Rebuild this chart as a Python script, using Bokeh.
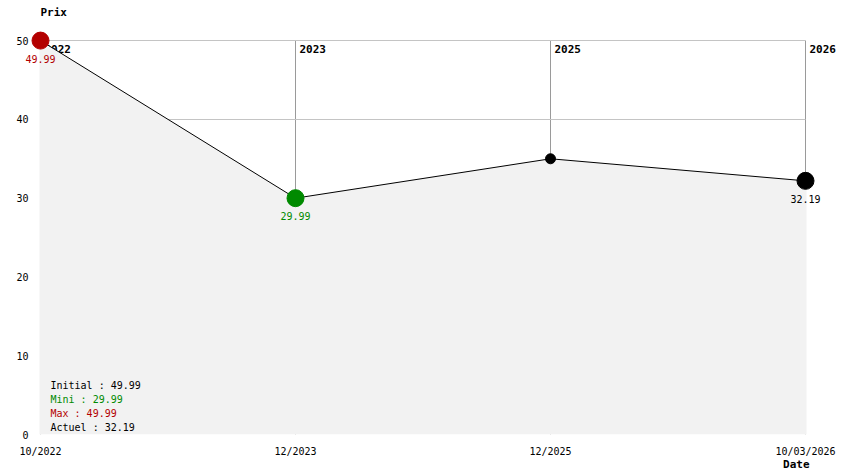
from bokeh.plotting import figure
from bokeh.models import ColumnDataSource, FixedTicker, Range1d, LabelSet, Label, Title
from bokeh.core.properties import value
from bokeh.embed import file_html
from bokeh.resources import INLINE

# ---- data ----
dates = ["10/2022", "12/2023", "12/2025", "10/03/2026"]
years = ["2022", "2023", "2025", "2026"]
prices = [49.99, 29.99, 34.99, 32.19]
y_ticks = [0, 10, 20, 30, 40, 50]

RED = "#b30000"
GREEN = "#008a00"
FILL = "#f2f2f2"
FONT = "DejaVu Sans Mono"

idx = list(range(len(prices)))
pmax, pmin = max(prices), min(prices)
last = len(prices) - 1

colors, sizes = [], []
for i, p in enumerate(prices):
    if p == pmax:
        colors.append(RED); sizes.append(17)
    elif p == pmin:
        colors.append(GREEN); sizes.append(17)
    elif i == last:
        colors.append("black"); sizes.append(17)
    else:
        colors.append("black"); sizes.append(10)

src = ColumnDataSource(dict(x=idx, y=prices, c=colors, s=sizes,
                            base=[0] * len(prices)))

PX = 255.0   # px per category step
PY = 7.88    # px per price unit
p = figure(width=844, height=474, output_backend="svg", toolbar_location=None,
           x_range=Range1d(-20 / PX, last + 35 / PX),
           y_range=Range1d(0, 50 + 40 / PY),
           min_border_left=20, min_border_right=4, min_border_top=0,
           min_border_bottom=40)
p.outline_line_color = None
p.background_fill_color = "white"

# axes
p.xaxis.ticker = FixedTicker(ticks=idx)
p.xaxis.major_label_overrides = {i: d for i, d in zip(idx, dates)}
p.yaxis.ticker = FixedTicker(ticks=y_ticks)
for ax in (p.xaxis, p.yaxis):
    ax.axis_line_color = None
    ax.major_tick_line_color = None
    ax.minor_tick_line_color = None
    ax.major_tick_out = 0
    ax.major_tick_in = 0
    ax.major_label_text_font = FONT
    ax.major_label_text_font_size = "10px"
    ax.major_label_text_color = "black"
p.yaxis.major_label_standoff = -8
p.xaxis.major_label_standoff = 11

# "Prix" caption at the top left
p.add_layout(Label(x=20, y=422, x_units="screen", y_units="screen", text="Prix",
                   text_font=FONT, text_font_size="11px", text_font_style="bold",
                   text_baseline="middle", text_color="black"))

# "Date" caption under the x axis
p.add_layout(Title(text="Date", align="right", offset=31, standoff=-8,
                   text_font=FONT, text_font_size="11px", text_font_style="bold",
                   text_color="black"), "below")

# grids, limited to the data area
p.ygrid.ticker = FixedTicker(ticks=y_ticks)
p.ygrid.cross_bounds = (0, last)
p.ygrid.grid_line_color = "#c4c4c4"
p.xgrid.ticker = FixedTicker(ticks=idx)
p.xgrid.cross_bounds = (0, 50)
p.xgrid.grid_line_color = "#9a9a9a"

# year labels at top of vertical lines (below the markers)
ysrc = ColumnDataSource(dict(x=idx, y=[50] * len(idx), t=years))
p.add_layout(LabelSet(x="x", y="y", text="t", source=ysrc, x_offset=4, y_offset=-4,
                      text_font=value(FONT), text_font_size="11px",
                      text_font_style="bold", text_baseline="top",
                      text_align="left", text_color="black", level="underlay"))

# area (edges covered so grid lines do not show beside it) + line + points
p.varea(x="x", y1="base", y2="y", source=src, fill_color=FILL)
ends = [0, last]
p.segment(x0=ends, y0=[0, 0], x1=ends, y1=[prices[i] for i in ends],
          line_color=FILL, line_width=2)
p.line(x="x", y="y", source=src, line_color="black", line_width=1)
p.scatter(x="x", y="y", size="s", fill_color="c", line_color="c", source=src)

# value labels for max, min, last
li = [prices.index(pmax), prices.index(pmin), last]
lsrc = ColumnDataSource(dict(x=li, y=[prices[i] for i in li],
                             t=["%.2f" % prices[i] for i in li],
                             c=[RED, GREEN, "black"]))
p.add_layout(LabelSet(x="x", y="y", text="t", source=lsrc, y_offset=-18,
                      text_font=value(FONT), text_font_size="10px", text_color="c",
                      text_baseline="middle", text_align="center"))

# summary legend
summary = ["Initial : %.2f" % prices[0], "Mini : %.2f" % pmin,
           "Max : %.2f" % pmax, "Actuel : %.2f" % prices[last]]
scol = ["black", GREEN, RED, "black"]
n = len(summary)
ssrc = ColumnDataSource(dict(x=[0] * n, y=[0] * n, t=summary, c=scol,
                             yo=[-7 - 14 * (n - 1 - k) for k in range(n)]))
p.text(x="x", y="y", text="t", source=ssrc, x_offset=10, y_offset="yo",
       text_font=value(FONT), text_font_size="10px", text_color="c",
       text_baseline="middle", text_align="left")

open("out.html", "w").write(file_html(p, INLINE))
